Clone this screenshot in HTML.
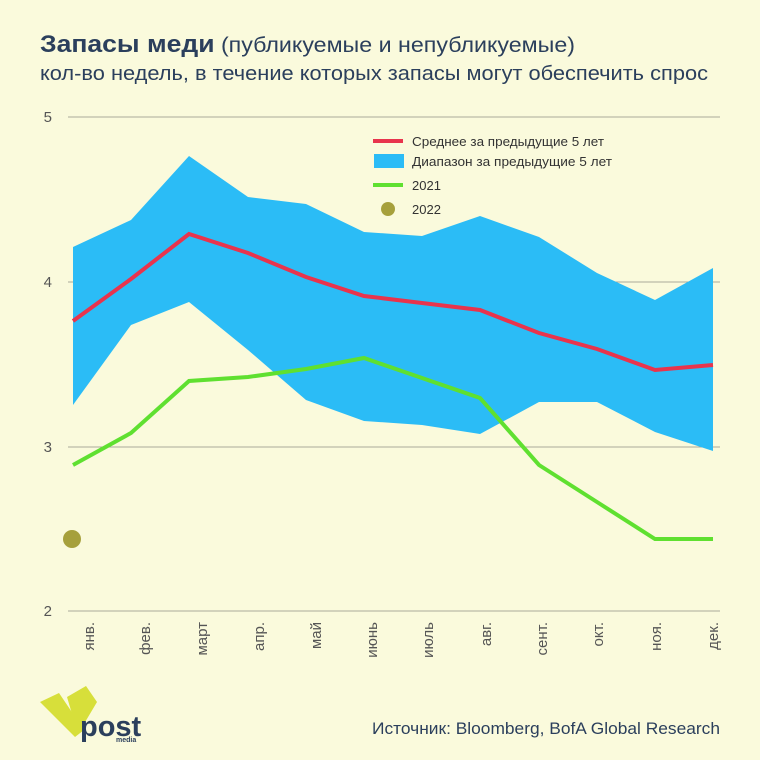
<!DOCTYPE html>
<html><head><meta charset="utf-8"><style>
body{margin:0;background:#fafadc;}
svg{display:block;font-family:"Liberation Sans","DejaVu Sans",sans-serif;}
</style></head><body>
<svg width="760" height="760" viewBox="0 0 760 760">
<rect width="760" height="760" fill="#fafadc"/>
<text x="40" y="52" font-size="24" fill="#2b3f5c" textLength="535" lengthAdjust="spacingAndGlyphs"><tspan font-weight="bold">Запасы меди</tspan><tspan font-size="21"> (публикуемые и непубликуемые)</tspan></text>
<text x="40" y="80" font-size="20" fill="#2b3f5c" textLength="668" lengthAdjust="spacingAndGlyphs">кол-во недель, в течение которых запасы могут обеспечить спрос</text>
<g stroke="#a9a99a" stroke-width="1">
<line x1="68" y1="117" x2="720" y2="117"/><line x1="68" y1="282" x2="720" y2="282"/>
<line x1="68" y1="447" x2="720" y2="447"/><line x1="68" y1="611" x2="720" y2="611"/>
</g>
<g font-size="15" fill="#555" text-anchor="end">
<text x="52" y="122">5</text><text x="52" y="287">4</text><text x="52" y="452">3</text><text x="52" y="616">2</text>
</g>
<polygon fill="#2bbcf6" points="73,247 131,220 189,156 248,197 306,204 364,232 422,236 480,216 539,237 597,273 655,300 713,268 713,451 655,432 597,402 539,402 480,434 422,425 364,421 306,400 248,350 189,302 131,325 73,405"/>
<polyline fill="none" stroke="#e8344d" stroke-width="4" points="73,321 131,279 189,234 248,253 306,277 364,296 422,303 480,310 539,333 597,349 655,370 713,365"/>
<polyline fill="none" stroke="#5fe030" stroke-width="4" points="73,465 131,433 189,381 248,377 306,369 364,358 422,378 480,398 539,465 597,502 655,539 713,539"/>
<circle cx="72" cy="539" r="9" fill="#a6a03c"/>
<g font-size="15" fill="#555">
<g transform="translate(94,622) rotate(-90)"><text text-anchor="end">янв.</text></g>
<g transform="translate(150,622) rotate(-90)"><text text-anchor="end">фев.</text></g>
<g transform="translate(207,622) rotate(-90)"><text text-anchor="end">март</text></g>
<g transform="translate(264,622) rotate(-90)"><text text-anchor="end">апр.</text></g>
<g transform="translate(321,622) rotate(-90)"><text text-anchor="end">май</text></g>
<g transform="translate(377,622) rotate(-90)"><text text-anchor="end">июнь</text></g>
<g transform="translate(433,622) rotate(-90)"><text text-anchor="end">июль</text></g>
<g transform="translate(491,622) rotate(-90)"><text text-anchor="end">авг.</text></g>
<g transform="translate(547,622) rotate(-90)"><text text-anchor="end">сент.</text></g>
<g transform="translate(603,622) rotate(-90)"><text text-anchor="end">окт.</text></g>
<g transform="translate(661,622) rotate(-90)"><text text-anchor="end">ноя.</text></g>
<g transform="translate(718,622) rotate(-90)"><text text-anchor="end">дек.</text></g>
</g>
<g font-size="13" fill="#333">
<line x1="373" y1="141" x2="403" y2="141" stroke="#e8344d" stroke-width="4"/>
<text x="412" y="146" textLength="192" lengthAdjust="spacingAndGlyphs">Среднее за предыдущие 5 лет</text>
<rect x="374" y="154" width="30" height="14" fill="#2bbcf6"/>
<text x="412" y="166" textLength="200" lengthAdjust="spacingAndGlyphs">Диапазон за предыдущие 5 лет</text>
<line x1="373" y1="185" x2="403" y2="185" stroke="#5fe030" stroke-width="4"/>
<text x="412" y="190">2021</text>
<circle cx="388" cy="209" r="7" fill="#a6a03c"/>
<text x="412" y="214">2022</text>
</g>
<polygon points="40,702 59,693 84,730 75,737" fill="#d7df3a"/>
<polygon points="67,697 86,686 97,702 78,734" fill="#d7df3a"/>
<text x="80" y="736" font-size="29" font-weight="bold" fill="#2b3f5c">post</text>
<text x="116" y="742" font-size="7" font-weight="bold" fill="#2b3f5c">media</text>
<text x="720" y="734" font-size="17" fill="#2b3f5c" text-anchor="end" textLength="348" lengthAdjust="spacingAndGlyphs">Источник: Bloomberg, BofA Global Research</text>
</svg>
</body></html>
